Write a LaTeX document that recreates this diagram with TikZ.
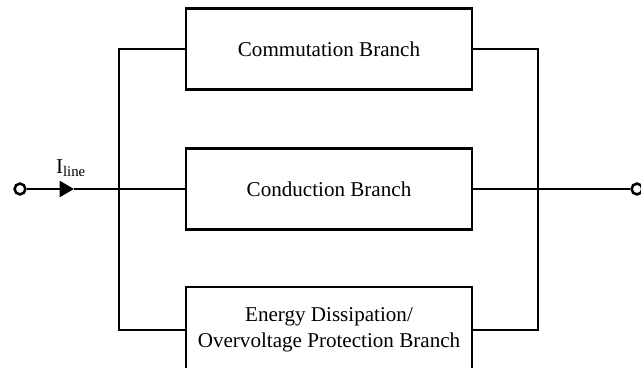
\documentclass[tikz,border=0pt]{standalone}
\usepackage{fontspec}
\setmainfont{Liberation Serif}
\usetikzlibrary{positioning, arrows.meta, calc}

\begin{document}
\begin{tikzpicture}[x=0.025cm, y=-0.025cm, line width=1.8pt,
    branch/.style={draw, line width=1.8pt, minimum width=7.15cm, minimum height=2.025cm, align=center, font=\fontsize{15}{18.5}\selectfont},
    term/.style={circle, draw, line width=1.8pt, inner sep=0pt, minimum size=0.27cm}]
    \useasboundingbox (0,0) rectangle (641,368);
    \node (Commut) [branch] at (329,49) {Commutation Branch};
    \node (Conduct) [branch] at (329,189) {Conduction Branch};
    \node (Energy) [branch, minimum height=2.15cm] at (329,330) {Energy Dissipation/\\Overvoltage Protection Branch};
    \node (In) [term] at (20,189) {};
    \node (Out) [term] at (637,189) {};
    \coordinate (LBus) at (119,189);
    \coordinate (RBus) at (538,189);
    \coordinate (Arr) at (74,189);
    % parallel branches
    \draw (Commut.west) -| (LBus) |- (Energy.west);
    \draw (Commut.east) -| (RBus) |- (Energy.east);
    \draw [-{Triangle[length=0.36cm, width=0.4cm]}] (In) -- (Arr);
    \draw (Arr) -- (Conduct.west);
    \draw (Conduct.east) -- (Out);
    \node (Iline) at (71,168) [font=\fontsize{15}{18}\selectfont] {I\textsubscript{line}};
\end{tikzpicture}
\end{document}
